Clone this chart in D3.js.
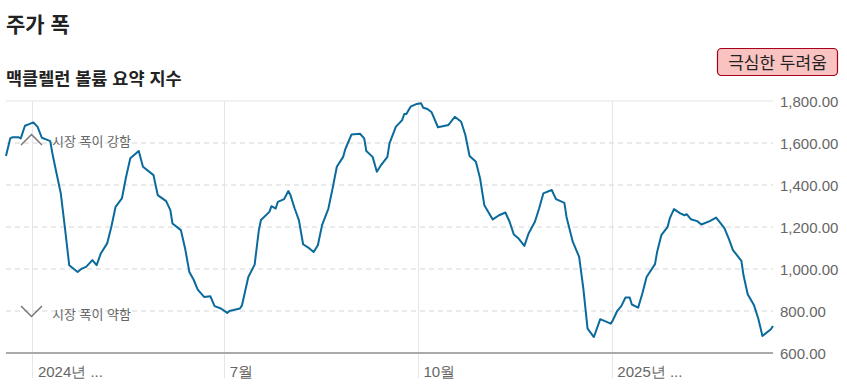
<!DOCTYPE html>
<html><head><meta charset="utf-8">
<script src="https://cdn.jsdelivr.net/npm/d3@7"></script>
<style>
html,body{margin:0;padding:0;background:#fff;}
svg{display:block;font-family:"Liberation Sans","Noto Sans CJK KR",Arial,sans-serif;}
</style></head>
<body><svg id="c" width="847" height="388"></svg>
<script>
const dates = ["2024-03-19","2024-03-21","2024-03-22","2024-03-25","2024-03-26","2024-03-28","2024-03-30","2024-04-01","2024-04-03","2024-04-05","2024-04-07","2024-04-09","2024-04-10","2024-04-12","2024-04-14","2024-04-16","2024-04-18","2024-04-22","2024-04-24","2024-04-26","2024-04-29","2024-05-01","2024-05-03","2024-05-06","2024-05-08","2024-05-10","2024-05-13","2024-05-15","2024-05-17","2024-05-21","2024-05-23","2024-05-28","2024-05-30","2024-06-03","2024-06-05","2024-06-06","2024-06-10","2024-06-12","2024-06-14","2024-06-16","2024-06-18","2024-06-21","2024-06-24","2024-06-26","2024-06-29","2024-07-02","2024-07-03","2024-07-08","2024-07-09","2024-07-12","2024-07-15","2024-07-17","2024-07-18","2024-07-22","2024-07-23","2024-07-25","2024-07-26","2024-07-29","2024-07-31","2024-08-01","2024-08-03","2024-08-05","2024-08-07","2024-08-10","2024-08-12","2024-08-14","2024-08-16","2024-08-19","2024-08-21","2024-08-23","2024-08-26","2024-08-27","2024-08-28","2024-08-30","2024-09-03","2024-09-05","2024-09-06","2024-09-09","2024-09-11","2024-09-13","2024-09-16","2024-09-17","2024-09-20","2024-09-23","2024-09-24","2024-09-25","2024-09-27","2024-09-30","2024-10-02","2024-10-03","2024-10-05","2024-10-07","2024-10-10","2024-10-15","2024-10-18","2024-10-21","2024-10-23","2024-10-25","2024-10-28","2024-10-30","2024-11-01","2024-11-05","2024-11-08","2024-11-11","2024-11-13","2024-11-15","2024-11-17","2024-11-20","2024-11-22","2024-11-25","2024-11-27","2024-11-29","2024-12-03","2024-12-05","2024-12-09","2024-12-10","2024-12-13","2024-12-16","2024-12-18","2024-12-20","2024-12-23","2024-12-26","2024-12-31","2025-01-01","2025-01-03","2025-01-05","2025-01-07","2025-01-09","2025-01-10","2025-01-13","2025-01-15","2025-01-17","2025-01-21","2025-01-22","2025-01-24","2025-01-27","2025-01-28","2025-01-30","2025-02-02","2025-02-04","2025-02-05","2025-02-07","2025-02-10","2025-02-12","2025-02-16","2025-02-19","2025-02-21","2025-02-23","2025-02-25","2025-02-27","2025-03-03","2025-03-04","2025-03-06","2025-03-09","2025-03-11","2025-03-13","2025-03-17","2025-03-18"];
const values = [1538,1622,1627,1627,1622,1682,1690,1698,1677,1625,1617,1609,1551,1455,1360,1193,1018,986,1002,1010,1042,1018,1074,1122,1201,1296,1336,1439,1527,1562,1487,1447,1352,1323,1280,1217,1185,1098,986,950,902,867,870,823,812,791,800,812,827,962,1021,1185,1233,1272,1299,1288,1320,1333,1371,1352,1288,1233,1118,1098,1081,1113,1209,1288,1384,1487,1534,1570,1594,1641,1644,1622,1562,1534,1463,1495,1534,1598,1677,1709,1738,1738,1773,1786,1789,1768,1762,1746,1675,1686,1725,1701,1638,1538,1511,1431,1304,1236,1256,1269,1225,1164,1148,1110,1169,1225,1288,1360,1376,1333,1315,1248,1129,1058,907,716,676,761,740,756,799,823,864,864,831,816,883,962,1023,1081,1161,1201,1241,1285,1265,1256,1261,1237,1228,1212,1228,1245,1220,1193,1145,1090,1039,970,880,827,764,681,713,729];
const xTickDates = ["2024-04-01","2024-07-01","2024-10-01","2025-01-01"];
const xTickLabels = ["2024년 ...","7월","10월","2025년 ..."];
const yTicks = [600,800,1000,1200,1400,1600,1800];
const title = "주가 폭";
const subtitle = "맥클렐런 볼륨 요약 지수";
const badgeText = "극심한 두려움";
const noteHigh = "시장 폭이 강함";
const noteLow = "시장 폭이 약함";

const parse = d3.utcParse("%Y-%m-%d");
const data = dates.map((d,i)=>({date:parse(d), value:values[i]}));
const svg = d3.select("#c");

const x = d3.scaleUtc().domain([parse("2024-03-19"), parse("2025-03-18")]).range([6,773]);
const y = d3.scaleLinear().domain([600,1800]).range([353,101]);

// title
svg.append("text").attr("x",6).attr("y",32).attr("font-size",21).attr("font-weight","bold").attr("fill","#222").text(title);
svg.append("text").attr("x",6).attr("y",85).attr("font-size",17.5).attr("font-weight","bold").attr("fill","#222").text(subtitle);

// badge
const bg = svg.append("g");
bg.append("rect").attr("x",717.5).attr("y",48.5).attr("width",120).attr("height",27).attr("rx",4)
  .attr("fill","#f9c3c1").attr("stroke","#a8001c").attr("stroke-width",1.2);
bg.append("text").attr("x",777.5).attr("y",68.5).attr("text-anchor","middle").attr("font-size",17).attr("fill","#222").text(badgeText);

// vertical gridlines
svg.append("g").selectAll("line").data(xTickDates).join("line")
  .attr("x1",d=>Math.round(x(parse(d)))-0.5).attr("x2",d=>Math.round(x(parse(d)))-0.5)
  .attr("y1",101).attr("y2",378).attr("stroke","#e6e6e6").attr("stroke-width",1);

// horizontal gridlines
svg.append("g").selectAll("line").data(yTicks.filter(v=>v>600)).join("line")
  .attr("x1",6).attr("x2",773).attr("y1",d=>y(d)).attr("y2",d=>y(d))
  .attr("stroke",d=>d===1800?"#ececec":"#e4e4e4").attr("stroke-width",1.5)
  .attr("stroke-dasharray",d=>d===1800?null:"5,4");

// y axis labels
const yAxis = d3.axisRight(y).tickValues(yTicks).tickFormat(d3.format(",.2f")).tickSize(0).tickPadding(0);
const gy = svg.append("g").attr("transform","translate(780,0)").call(yAxis);
gy.select(".domain").remove();
gy.selectAll("text").attr("font-size",15).attr("fill","#666").attr("font-family","'Liberation Sans',Arial,sans-serif").attr("dy","0.35em");

// x axis labels
const xAxis = d3.axisBottom(x).tickValues(xTickDates.map(parse)).tickFormat((d,i)=>xTickLabels[i]).tickSize(0).tickPadding(0);
const gx = svg.append("g").attr("transform","translate(0,353)").call(xAxis);
gx.select(".domain").remove();
gx.selectAll("text").attr("font-size",15).attr("fill","#666").attr("text-anchor","start").attr("dx",4).attr("y",24).attr("dy",0);

// baseline
svg.append("line").attr("x1",6).attr("x2",773).attr("y1",353).attr("y2",353).attr("stroke","#aaa").attr("stroke-width",2);

// annotations
svg.append("path").attr("d","M21,145 L31.5,134.5 L42,145").attr("fill","none").attr("stroke","#777").attr("stroke-width",1.5);
svg.append("path").attr("d","M21,306 L31.5,316.5 L42,306").attr("fill","none").attr("stroke","#777").attr("stroke-width",1.5);
svg.append("text").attr("x",52).attr("y",145.5).attr("font-size",13).attr("fill","#666").text(noteHigh);
svg.append("text").attr("x",52).attr("y",318.5).attr("font-size",13).attr("fill","#666").text(noteLow);

// line
const line = d3.line().x(d=>x(d.date)).y(d=>y(d.value));
svg.append("path").datum(data).attr("d",line).attr("fill","none").attr("stroke","#0a6a9c").attr("stroke-width",2).attr("stroke-linejoin","round");
</script></body></html>
